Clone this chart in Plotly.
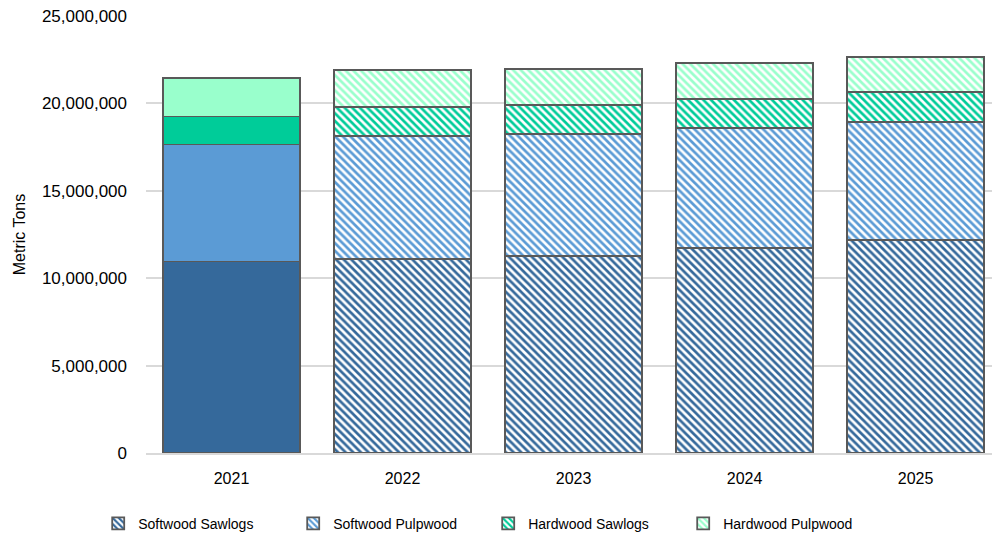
import plotly.graph_objects as go

years = ["2021", "2022", "2023", "2024", "2025"]
series_names = ["Softwood Sawlogs", "Softwood Pulpwood", "Hardwood Sawlogs", "Hardwood Pulpwood"]
softwood_sawlogs = [10950000, 11100000, 11270000, 11740000, 12170000]
softwood_pulpwood = [6700000, 7050000, 6980000, 6870000, 6770000]
hardwood_sawlogs = [1600000, 1650000, 1650000, 1660000, 1690000]
hardwood_pulpwood = [2200000, 2100000, 2070000, 2040000, 2020000]
colors = ["#35699B", "#5B9BD5", "#00CC99", "#99FFCC"]

series_values = [softwood_sawlogs, softwood_pulpwood, hardwood_sawlogs, hardwood_pulpwood]

FONT = "Liberation Sans, Arial, sans-serif"
fig = go.Figure()
outline = dict(color="#595959", width=1.8)
for name, vals, col in zip(series_names, series_values, colors):
    # actual year (solid)
    fig.add_trace(go.Bar(
        x=years[:1], y=vals[:1], name=name, showlegend=False, legendgroup=name,
        marker=dict(color=col, line=outline),
    ))
    # projected years (patterned)
    fig.add_trace(go.Bar(
        x=years[1:], y=vals[1:], name=name, legendgroup=name,
        marker=dict(color="white", line=outline,
                    pattern=dict(shape="\\", fgcolor=col, bgcolor="white",
                                 size=5.4, solidity=0.5, fillmode="replace",
                                 fgopacity=1)),
    ))

fig.update_layout(
    barmode="stack",
    bargap=0.2,
    width=992, height=544,
    margin=dict(l=146, r=0, t=16, b=91, autoexpand=False),
    paper_bgcolor="white", plot_bgcolor="white",
    font=dict(family=FONT, color="#000000", size=16),
    xaxis=dict(
        type="category", range=[-0.5, 4.447],
        showline=True, linecolor="#d9d9d9", linewidth=2,
        tickfont=dict(size=16, family=FONT), ticks="",
        ticklabelstandoff=10, automargin=False,
    ),
    yaxis=dict(
        range=[0, 25000000], tickvals=[0, 5000000, 10000000, 15000000, 20000000, 25000000],
        tickformat=",", showgrid=True, gridcolor="#d9d9d9", gridwidth=1.5,
        zeroline=False, ticks="",
        tickfont=dict(size=17, family=FONT),
        ticklabelstandoff=18,
        title=dict(text="Metric Tons", font=dict(size=16, family=FONT), standoff=12),
        automargin=False,
    ),
    legend=dict(
        orientation="h", xref="container", yref="container",
        x=0.099, xanchor="left", y=0.037, yanchor="middle",
        font=dict(size=14, family=FONT, color="#000000"),
        entrywidth=150, entrywidthmode="pixels",
        traceorder="normal",
    ),
)

fig.write_html("out.html", config={"displayModeBar": False},
               post_script="document.body.style.margin='0';")
